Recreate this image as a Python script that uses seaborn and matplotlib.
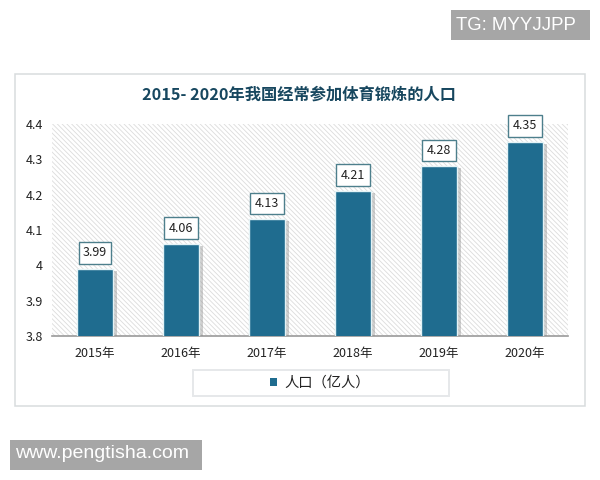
import matplotlib
matplotlib.use("Agg")
import matplotlib.pyplot as plt
import matplotlib.patheffects as pe
from matplotlib.patches import Rectangle
import pandas as pd
import seaborn as sns

years = ["2015年", "2016年", "2017年", "2018年", "2019年", "2020年"]
population = [3.99, 4.06, 4.13, 4.21, 4.28, 4.35]
value_labels = ["3.99", "4.06", "4.13", "4.21", "4.28", "4.35"]
y_ticks = [3.8, 3.9, 4.0, 4.1, 4.2, 4.3, 4.4]
y_tick_labels = ["3.8", "3.9", "4", "4.1", "4.2", "4.3", "4.4"]
series_name = "人口（亿人）"
title = "2015- 2020年我国经常参加体育锻炼的人口"

W, H = 600, 480
BLUE = "#1f6c8f"

def px_box(x0, y0, x1, y1):     # pixel box (top left origin) to figure fractions
    return [x0 / W, 1 - y1 / H, (x1 - x0) / W, (y1 - y0) / H]

sns.set_theme(style="white")
plt.rcParams['font.family'] = ['Noto Sans CJK SC', 'DejaVu Sans']
plt.rcParams['hatch.linewidth'] = 0.6

fig = plt.figure(figsize=(6, 4.8), dpi=100, facecolor="white")

# outer frame and legend box sit behind the axes
x, y, w, h = px_box(15, 74, 585, 406)
fig.add_artist(Rectangle((x, y), w, h, transform=fig.transFigure, fc="white", ec="#d8dcde", lw=1.1, zorder=-2))
x, y, w, h = px_box(193, 370, 449, 396)
fig.add_artist(Rectangle((x, y), w, h, transform=fig.transFigure, fc="white", ec="#e6e8ea", lw=1.4, zorder=-1))

ax = fig.add_axes(px_box(52, 124, 568, 336))
ax.patch.set_alpha(0)
# hatch takes its colour from the edge colour, so keep an edge with no width
ax.add_patch(Rectangle((0, 0), 1, 1, transform=ax.transAxes, fc="white", ec="#dcdcdc", lw=0,
                       hatch="\\\\\\\\\\\\\\", zorder=0))

data = pd.DataFrame({"year": years, "population": population})
sns.barplot(data=data, x="year", y="population", color=BLUE, saturation=1, width=0.42,
            ax=ax, zorder=3, label=series_name)
for bar in ax.containers[0]:
    bar.set_edgecolor("#e4f3f6")
    bar.set_linewidth(1.0)
    bar.set_path_effects([pe.SimplePatchShadow(offset=(2.5, -1.5), shadow_rgbFace="#888888", alpha=0.4),
                          pe.Normal()])

ax.set_ylim(3.8, 4.4)
ax.set_xlim(-0.5, 5.5)
ax.set_yticks(y_ticks)
ax.set_yticklabels(y_tick_labels, fontsize=9, color="#222222")
ax.tick_params(axis="x", labelsize=9, colors="#222222", length=0, pad=8)
ax.tick_params(axis="y", length=0, pad=6.5)
ax.set_xlabel("")
ax.set_ylabel("")
sns.despine(ax=ax, left=True, top=True, right=True)
ax.spines["bottom"].set_color("#9a9a9a")
ax.spines["bottom"].set_linewidth(1.2)

for i, (val, txt) in enumerate(zip(population, value_labels)):
    ax.annotate(txt, (i, val), xytext=(0, 11.5), textcoords="offset points", ha="center", va="center",
                fontsize=9, color="#222222", zorder=5,
                bbox=dict(boxstyle="square,pad=0.35", fc="white", ec="#4d7f8c", lw=1.0))

fig.text(299 / W, 1 - 95 / H, title, ha="center", va="center", fontsize=11.7,
         fontweight="bold", color="#17475f")

leg = ax.legend(loc="center", bbox_to_anchor=(320 / W, 1 - 383 / H), bbox_transform=fig.transFigure,
                frameon=False, fontsize=10.3, handlelength=0.5, handleheight=0.5, handletextpad=0.5)
for text in leg.get_texts():
    text.set_color("#222222")
for handle in leg.legend_handles:
    handle.set_path_effects([])
    handle.set_edgecolor("none")

# watermarks
x, y, w, h = px_box(451, 10, 590, 40)
fig.add_artist(Rectangle((x, y), w, h, transform=fig.transFigure, fc="#a6a6a6", ec="none"))
fig.text(456 / W, 1 - 26 / H, "TG: MYYJJPP", color="white", fontsize=13.4, va="center", family="Liberation Sans")
x, y, w, h = px_box(10, 440, 202, 470)
fig.add_artist(Rectangle((x, y), w, h, transform=fig.transFigure, fc="#a6a6a6", ec="none"))
fig.text(15 / W, 1 - 454 / H, "www.pengtisha.com", color="white", fontsize=14, va="center", family="Liberation Sans")

fig.savefig("out.png", dpi=100)
